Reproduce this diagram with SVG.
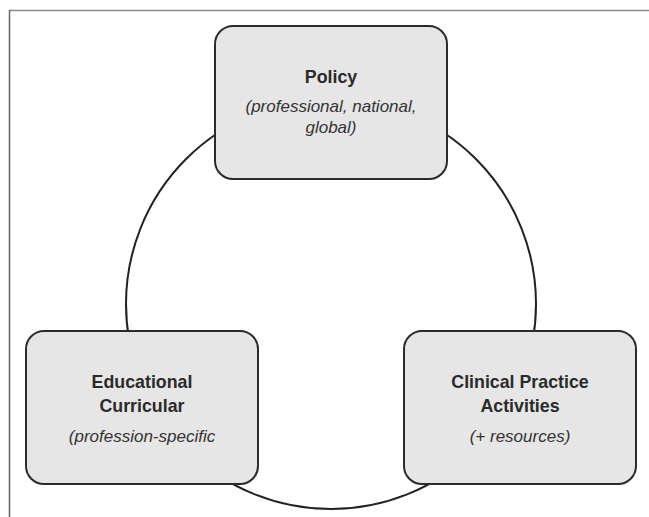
<svg xmlns="http://www.w3.org/2000/svg" width="649" height="517" viewBox="0 0 649 517">
<style>
.box{fill:#e6e6e6;stroke:#2b2b2b;stroke-width:2}
.t{font-family:"Liberation Sans",Arial,sans-serif;fill:#2a2a2a;text-anchor:middle}
.b{font-weight:bold;font-size:17.8px}
.i{font-style:italic;font-size:17px;fill:#333}
</style>
<rect width="649" height="517" fill="#ffffff"/>
<g id="frame">
<line x1="9" y1="10.5" x2="649" y2="10.5" stroke="#8a8a8a" stroke-width="1.5"/>
<line x1="9.5" y1="10" x2="9.5" y2="517" stroke="#666" stroke-width="1.5"/>
</g>
<g id="connectors">
<circle cx="331" cy="304" r="205" fill="none" stroke="#222" stroke-width="2"/>
</g>
<g id="policy">
<rect class="box" x="215" y="26" width="232" height="153" rx="18"/>
<text class="t b" x="331" y="83">Policy</text>
<text class="t i" x="331" y="112">(professional, national,</text>
<text class="t i" x="331" y="133">global)</text>
</g>
<g id="educational">
<rect class="box" x="26" y="331" width="232" height="153" rx="18"/>
<text class="t b" x="142" y="388">Educational</text>
<text class="t b" x="142" y="412">Curricular</text>
<text class="t i" x="142" y="442">(profession-specific</text>
</g>
<g id="clinical">
<rect class="box" x="404" y="331" width="232" height="153" rx="18"/>
<text class="t b" x="520" y="388">Clinical Practice</text>
<text class="t b" x="520" y="412">Activities</text>
<text class="t i" x="520" y="442">(+ resources)</text>
</g>
</svg>
